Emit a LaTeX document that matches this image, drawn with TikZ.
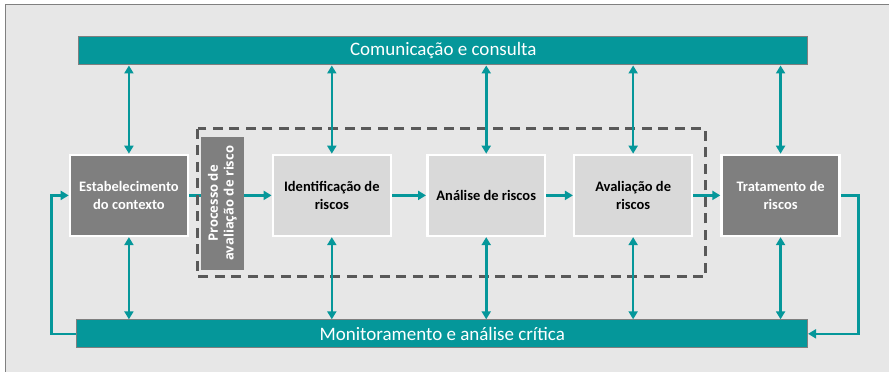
\documentclass[tikz,border=0pt]{standalone}
\usepackage{fontspec}
\setmainfont{Carlito}
\newfontfamily\fonteproc{Open Sans}
\usetikzlibrary{arrows.meta}

\definecolor{verdeagua}{HTML}{05979A}
\definecolor{cinzaescuro}{HTML}{7F7F7F}
\definecolor{cinzaclaro}{HTML}{D9D9D9}
\definecolor{fundo}{HTML}{E7E7E7}
\definecolor{tracejado}{HTML}{595959}

\begin{document}
\begin{tikzpicture}[x=1pt,y=-1pt,
    barra/.style={fill=verdeagua, draw=cinzaescuro, line width=1pt, minimum height=28pt,
        inner sep=0pt, text=white, font=\fontsize{19}{22}\selectfont},
    caixa/.style={draw=white, line width=2.5pt, minimum width=118pt, minimum height=81pt,
        inner sep=0pt, align=center, font=\bfseries\fontsize{14.5}{18}\selectfont},
    escura/.style={caixa, fill=cinzaescuro, text=white},
    clara/.style={caixa, fill=cinzaclaro, text=black},
    seta/.style={verdeagua, line width=2.6pt, -{Triangle[length=8pt,width=9pt]}},
    setadupla/.style={seta, {Triangle[length=8pt,width=9pt]}-{Triangle[length=8pt,width=9pt]}}]

        % Fundo e moldura
        \fill[white] (0,0) rectangle (889,372);
        \fill[fundo] (5,4.5) rectangle (889,372);
        \draw[gray, line width=1pt] (5.5,372) -- (5.5,4.5) -- (889,4.5);

        % Barras de comunicacao e monitoramento
        \node[barra, minimum width=729pt] (comunicacao) at (443.5,51) {Comunicação e consulta};
        \node[barra, minimum width=731pt] (monitoramento) at (442.5,334) {Monitoramento e análise crítica};

        % Caixas das etapas
        \node[escura] (contexto) at (129,195.5) {Estabelecimento\\do contexto};
        \node[clara] (identificacao) at (332,195.5) {Identificação de\\riscos};
        \node[clara] (analise) at (486.5,195.5) {Análise de riscos};
        \node[clara] (avaliacao) at (633.5,195.5) {Avaliação de\\riscos};
        \node[escura] (tratamento) at (781,195.5) {Tratamento de\\riscos};

        % Setas entre as etapas
        \draw[seta] (contexto.east) -- (identificacao.west);
        \draw[seta] (identificacao) -- (analise);
        \draw[seta] (analise) -- (avaliacao);
        \draw[seta] (avaliacao) -- (tratamento);

        % Processo de avaliacao de risco
        \draw[tracejado, line width=3pt, dash pattern=on 10pt off 6.5pt] (198,129) rectangle (706,277);
        \node[fill=cinzaescuro, text=white, rotate=90, minimum width=133pt, minimum height=43pt,
            inner sep=0pt, align=center, font=\fonteproc\bfseries\fontsize{13}{16}\selectfont]
            (processo) at (222.5,203.5) {Processo de\\avaliação de risco};

        % Setas de comunicacao e monitoramento
        \foreach \etapa in {contexto, identificacao, analise, avaliacao, tratamento} {
            \draw[setadupla] (comunicacao.south -| \etapa.north) -- (\etapa.north);
            \draw[setadupla] (\etapa.south) -- (monitoramento.north -| \etapa.south);
        }

        % Retornos
        \draw[seta] (tratamento.east) -- ++(18,0) |- (monitoramento.east);
        \draw[seta] (monitoramento.west) -- ++(-25,0) |- (contexto.west);
    \end{tikzpicture}
\end{document}
